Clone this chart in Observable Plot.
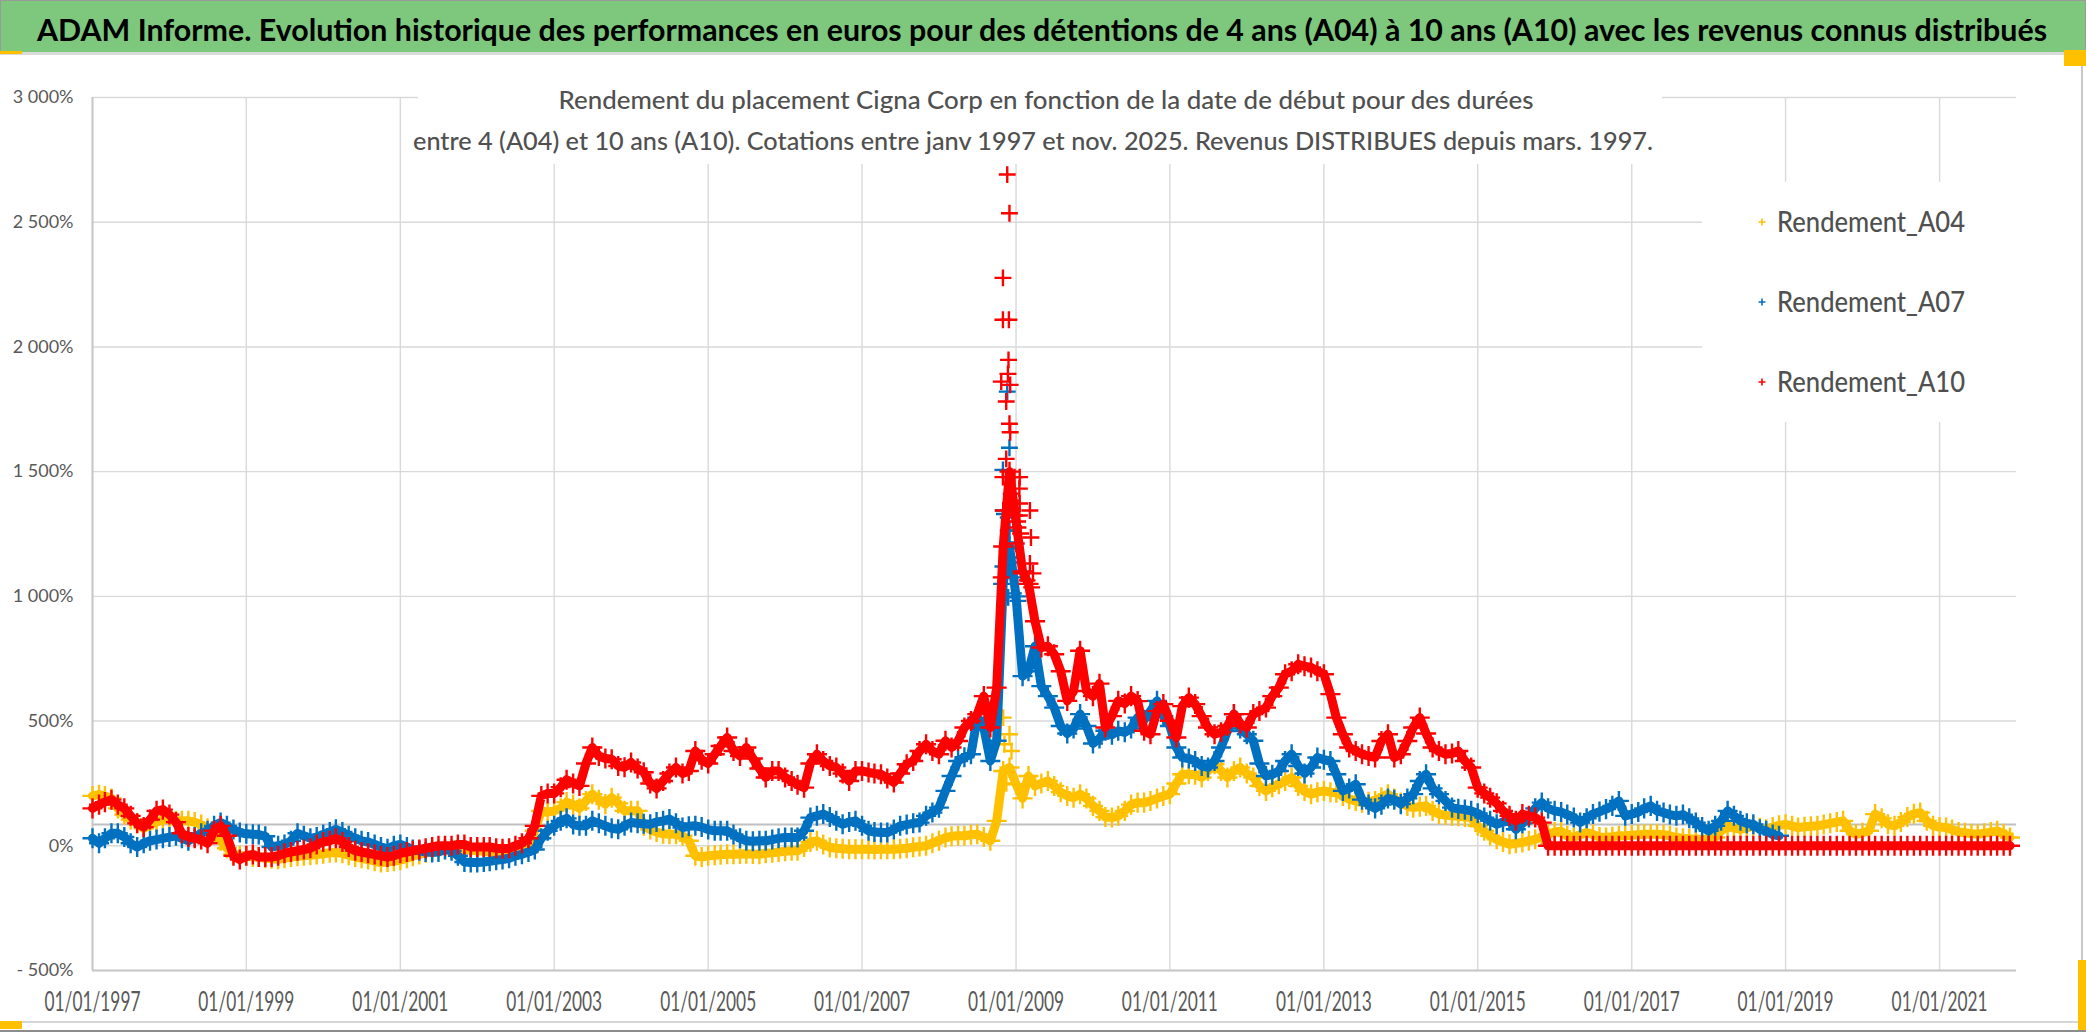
<!DOCTYPE html>
<html><head><meta charset="utf-8">
<script src="https://cdn.jsdelivr.net/npm/d3@7"></script>
<script src="https://cdn.jsdelivr.net/npm/@observablehq/plot@0.6"></script>
<style>
html,body{margin:0;padding:0;background:#fff;}
body{width:2086px;height:1032px;overflow:hidden;position:relative;font-family:Lato,"Open Sans",sans-serif;}
.abs{position:absolute;}
#titlebar{left:0;top:0;width:2084px;height:51px;background:#7dc87d;border:1px solid #9a9a9a;border-bottom:none;}
#sep{left:0;top:52px;width:2086px;height:3px;background:#dadada;}
#chart{left:0;top:52px;}
#rborder{left:2081px;top:55px;width:2px;height:977px;background:#c8c8c8;}
#bborder{left:0;top:1021px;width:2083px;height:2px;background:#d6d6d6;}
#bborder2{left:0;top:1030px;width:2086px;height:2px;background:#8c8c8c;}
svg{overflow:visible;}
</style></head><body>
<div id="titlebar" class="abs"></div>
<div id="sep" class="abs"></div>
<div id="chart" class="abs"></div>
<div id="rborder" class="abs"></div>
<div id="bborder" class="abs"></div>
<div id="bborder2" class="abs"></div>
<script>
// ---------------- DATA (monthly readings, start Jan 1997) ----------------
const titleText = "ADAM Informe. Evolution historique des performances en euros pour des détentions de 4 ans (A04) à 10 ans (A10) avec les revenus connus distribués";
const subtitleLines = [
  "Rendement du placement Cigna Corp en fonction de la date de début pour des durées",
  "entre 4 (A04) et 10 ans (A10). Cotations entre janv 1997 et nov. 2025. Revenus DISTRIBUES depuis mars. 1997."
];
const seriesNames = ["Rendement_A04", "Rendement_A07", "Rendement_A10"];
const seriesColors = ["#FFC000", "#0070C0", "#FF0000"];
const startMonth = "1997-01-01";

const a04 = [
  200,205,200,190,150,125,105,90,70,85,95,105,
  105,100,100,100,95,85,70,50,20,-10,-35,-40,
  -40,-45,-45,-50,-52,-54,-50,-45,-42,-40,-38,-35,
  -32,-28,-27,-30,-38,-45,-50,-55,-62,-67,-65,-62,
  -58,-50,-42,-35,-28,-20,-15,-14,-14,-14,-15,-18,
  -20,-22,-25,-27,-25,-20,-16,-14,0,60,140,135,
  140,150,175,165,150,180,207,185,167,193,170,140,
  140,140,80,65,55,48,46,46,40,20,-40,-45,
  -40,-38,-36,-34,-34,-33,-32,-33,-34,-30,-28,-25,
  -22,-20,-20,-5,15,20,5,-7,-10,-12,-14,-14,
  -14,-14,-15,-14,-14,-14,-12,-10,-6,-3,0,10,
  20,33,38,40,40,44,46,35,20,100,300,314,
  247,190,280,240,250,260,240,215,200,193,207,190,
  160,140,115,113,120,140,165,173,173,180,190,200,
  207,250,287,287,285,274,300,327,300,274,300,314,
  290,274,240,220,235,247,260,274,240,220,207,215,
  220,215,213,200,187,180,173,177,180,195,207,190,
  173,160,153,157,160,140,127,123,120,118,115,113,
  80,60,40,26,15,6,10,13,20,26,35,46,
  55,58,40,33,45,53,45,35,33,36,40,40,
  42,44,46,46,46,44,40,33,30,28,26,26,
  28,33,60,80,72,66,72,80,72,66,75,82,
  86,80,73,76,78,80,85,90,95,100,60,46,
  52,60,127,110,86,80,95,115,128,133,100,80,
  75,73,65,55,52,48,46,50,55,60,48,33
];
const a07 = [
  30,10,30,50,50,35,10,-5,10,20,25,30,
  35,40,30,20,35,50,60,80,93,80,65,53,
  48,46,45,38,-5,0,5,20,50,40,30,35,
  45,55,66,55,40,30,20,15,5,-5,-12,0,
  5,-5,-15,-20,-25,-27,-25,-15,-20,-40,-65,-67,
  -67,-65,-62,-58,-55,-50,-40,-34,-25,-15,30,60,
  80,100,110,85,80,80,100,90,80,70,66,80,
  93,90,88,86,95,100,107,90,73,78,80,75,
  65,60,60,60,45,30,20,18,20,20,25,30,
  33,33,33,60,113,120,127,115,100,86,95,100,
  80,60,55,53,53,65,80,85,90,93,120,133,
  153,220,280,340,355,367,514,474,340,421,1050,1200,
  1000,680,700,800,640,600,554,480,450,470,528,480,
  410,430,461,445,461,455,470,514,505,540,581,520,
  480,394,354,350,340,320,314,340,394,460,528,470,
  447,421,330,280,285,300,340,367,320,290,314,354,
  345,340,287,220,230,247,185,165,150,165,190,185,
  167,190,207,260,287,230,207,180,153,148,145,140,
  130,113,100,86,95,100,66,90,113,150,173,150,
  140,135,125,113,93,110,127,137,147,160,180,120,
  127,135,150,160,140,133,125,120,125,110,93,75,
  60,80,100,140,120,100,90,86,66,60,45,40
];
const a10 = [
  150,165,175,185,165,150,120,90,75,105,140,145,
  125,95,50,35,30,25,10,60,80,40,-40,-55,
  -40,-35,-45,-45,-45,-40,-30,-25,-20,-15,-10,5,
  15,20,30,15,-5,-20,-25,-30,-35,-40,-45,-40,
  -30,-25,-20,-15,-10,-5,0,0,0,5,5,-5,
  -5,-5,-5,-10,-12,-10,0,10,30,80,200,210,
  210,235,265,250,240,330,394,360,350,347,320,315,
  334,310,295,250,230,260,290,314,290,300,380,345,
  330,367,400,434,380,360,394,350,310,274,300,300,
  274,260,245,233,330,367,340,320,314,290,260,300,
  300,294,290,287,270,254,290,327,340,380,407,380,
  367,421,394,420,474,500,528,600,474,634,1200,1500,
  1300,1100,1050,900,795,800,768,700,581,620,782,621,
  600,650,474,520,581,570,600,580,461,447,540,568,
  501,434,560,594,568,520,474,447,455,480,528,490,
  474,528,540,554,600,634,688,700,728,720,715,700,
  688,608,514,447,394,380,367,360,354,420,447,354,
  367,420,474,514,450,394,380,367,370,380,340,314,
  233,210,193,170,140,120,100,127,120,113,93,0,
  0,0,0,0,0,0,0,0,0,0,0,0,
  0,0,0,0,0,0,0,0,0,0,0,0,
  0,0,0,0,0,0,0,0,0,0,0,0,
  0,0,0,0,0,0,0,0,0,0,0,0,
  0,0,0,0,0,0,0,0,0,0,0,0,
  0,0,0,0,0,0,0,0,0,0,0,0
];
// scattered points around the Nov 2008 - Feb 2009 spike: [month index, value]
const spikeA04 = [[142.0,514],[142.2,407],[143.0,447],[143.3,380],[142.5,250]];
const spikeA07 = [[142.64,1821],[142.99,1596],[141.96,1507],[142.01,1344],[142.79,1316],[142.79,1264],[142.79,1216],[142.9,1192],[143.1,1156],[143.3,1136],[141.96,1120],[142.64,1120],[143.6,1096],[144.04,1076],[142.79,996],[143.6,1012],[142.2,1330],[143.0,1263],[144.3,982]];
const spikeA10 = [[141.7,1861],[141.96,2277],[141.96,2109],[142.9,2109],[142.64,2691],[142.99,2536],[142.84,1948],[142.75,1892],[143.1,1848],[142.48,1781],[142.99,1692],[143.1,1658],[142.48,1551],[141.96,1478],[143.77,1478],[144.56,1478],[143.26,1412],[144.51,1432],[143.4,1384],[144.56,1372],[142.01,1344],[146.22,1344],[143.77,1324],[144.51,1324],[144.3,1276],[144.7,1252],[146.38,1236],[144.04,1212],[146.22,1132],[146.69,1092],[141.7,1076],[144.82,1092],[145.76,1064],[146.49,1036]];
const referenceLine = [85];
const yTicks = [-500,0,500,1000,1500,2000,2500,3000];
const xTickYears = [1997,1999,2001,2003,2005,2007,2009,2011,2013,2015,2017,2019,2021];
const xDomain = ["1997-01-01","2022-01-01"];

// ---------------- helpers ----------------
const t0 = new Date(startMonth + "T00:00:00Z");
function monthDate(m){
  const i = Math.floor(m);
  const d0 = d3.utcMonth.offset(t0, i), d1 = d3.utcMonth.offset(t0, i + 1);
  return new Date(+d0 + (m - i) * (d1 - d0));
}
const toRows = (arr, s) => arr.map((v, i) => ({d: monthDate(i), v, s}));
const toSpike = (arr, s) => arr.map(([m, v]) => ({d: monthDate(m), v, s}));
const lines = [toRows(a04, 0), toRows(a07, 1), toRows(a10, 2)];
const spikes = [toSpike(spikeA04, 0), toSpike(spikeA07, 1), toSpike(spikeA10, 2)];
const xTicks = xTickYears.map(y => new Date(Date.UTC(y, 0, 1)));
const fmtNum = d3.formatLocale({decimal: ",", thousands: " ", grouping: [3]}).format(",d");
const yFmt = v => v < 0 ? "- " + fmtNum(-v) + "%" : fmtNum(v) + "%";

const seriesMarks = [];
for (let s = 0; s < 3; s++) {
  seriesMarks.push(Plot.line(lines[s], {x: "d", y: "v", stroke: seriesColors[s], strokeWidth: 9}));
  seriesMarks.push(Plot.dot(lines[s], {x: "d", y: "v", symbol: "plus", r: 6.5, stroke: seriesColors[s], strokeWidth: 2.4}));
  seriesMarks.push(Plot.dot(spikes[s], {x: "d", y: "v", symbol: "plus", r: 5.5, stroke: seriesColors[s], strokeWidth: 2.4}));
}

const chart = Plot.plot({
  width: 2086, height: 980,
  marginTop: 45, marginBottom: 62, marginLeft: 92, marginRight: 70,
  x: {type: "utc", domain: xDomain.map(s => new Date(s + "T00:00:00Z")), label: null},
  y: {domain: [-500, 3000], label: null},
  style: {fontFamily: "Lato, 'Open Sans', sans-serif", background: "transparent", overflow: "visible"},
  marks: [
    Plot.gridY(yTicks, {stroke: "#d9d9d9", strokeOpacity: 1, strokeWidth: 1.4}),
    Plot.gridX(xTicks, {stroke: "#d9d9d9", strokeOpacity: 1, strokeWidth: 1.4}),
    Plot.ruleY(referenceLine, {stroke: "#c0c0c0", strokeWidth: 2}),
    Plot.ruleY([-500], {stroke: "#c8c8c8", strokeWidth: 2}),
    Plot.ruleX([xTicks[0]], {stroke: "#c8c8c8", strokeWidth: 2}),
    Plot.axisY(yTicks, {tickSize: 0, tickPadding: 19, tickFormat: yFmt, fontSize: 18, fill: "#595959", label: null}),
    Plot.axisX(xTicks, {tickSize: 0, tickPadding: 22, tickFormat: d3.utcFormat("%d/%m/%Y"), fontSize: 26, fill: "#595959", label: null}),
    ...seriesMarks
  ]
});
document.getElementById("chart").appendChild(chart);

// condense tick labels (narrow Calibri-like look)
chart.querySelectorAll('g[aria-label="x-axis tick label"] text').forEach(t => {
  t.setAttribute("textLength", 96); t.setAttribute("lengthAdjust", "spacingAndGlyphs");
});

// ---------------- overlays: title, subtitle, legend ----------------
const NS = "http://www.w3.org/2000/svg";
function svgEl(tag, attrs, parent){ const e = document.createElementNS(NS, tag); for (const k in attrs) e.setAttribute(k, attrs[k]); if (parent) parent.appendChild(e); return e; }
function overlay(left, top, w, h){
  const s = svgEl("svg", {width: w, height: h});
  s.style.position = "absolute"; s.style.left = left + "px"; s.style.top = top + "px";
  document.body.appendChild(s); return s;
}
// title: font size fitted so that its natural width is about 2010px
const ts = overlay(0, 0, 2086, 52);
const tt = svgEl("text", {x: 1042, y: 41, "text-anchor": "middle", "font-family": "Lato, sans-serif", "font-weight": 700, "font-size": 32, fill: "#000"}, ts);
tt.textContent = titleText;
const natural = tt.getComputedTextLength();
if (natural > 0) tt.setAttribute("font-size", (32 * 2010 / natural).toFixed(2));
// subtitle box
const ss = overlay(398, 62, 1290, 102);
svgEl("rect", {x: 20, y: 0, width: 1244, height: 102, fill: "#fff"}, ss);
const sub1 = svgEl("text", {x: 1046 - 398, y: 109 - 62, "text-anchor": "middle", "font-family": "Lato, sans-serif", "font-size": 25, "font-weight": 500, fill: "#505050", textLength: 975, lengthAdjust: "spacingAndGlyphs"}, ss);
sub1.textContent = subtitleLines[0];
const sub2 = svgEl("text", {x: 1033 - 398, y: 150 - 62, "text-anchor": "middle", "font-family": "Lato, sans-serif", "font-size": 25, "font-weight": 500, fill: "#505050", textLength: 1240, lengthAdjust: "spacingAndGlyphs"}, ss);
sub2.textContent = subtitleLines[1];
// legend
const ls = overlay(1702, 182, 314, 240);
svgEl("rect", {x: 0, y: 0, width: 314, height: 240, fill: "#fff"}, ls);
seriesNames.forEach((name, i) => {
  const cy = 40 + i * 80;
  svgEl("path", {d: `M${60 - 3.5},${cy}h7M60,${cy - 3.5}v7`, stroke: seriesColors[i], "stroke-width": 1.6, fill: "none"}, ls);
  const tx = svgEl("text", {x: 75, y: cy + 10, "font-family": "Lato, sans-serif", "font-size": 28, "font-weight": 500, fill: "#505050", textLength: 188, lengthAdjust: "spacingAndGlyphs"}, ls);
  tx.textContent = name;
});
// selection handles (yellow)
[[0,51,22,3],[2064,50,22,16],[2078,960,8,70],[0,1021,22,8]].forEach(([l,t,w,h]) => {
  const d = document.createElement("div"); d.className = "abs";
  Object.assign(d.style, {left: l + "px", top: t + "px", width: w + "px", height: h + "px", background: "#ffc000"});
  document.body.appendChild(d);
});
</script>
</body></html>
